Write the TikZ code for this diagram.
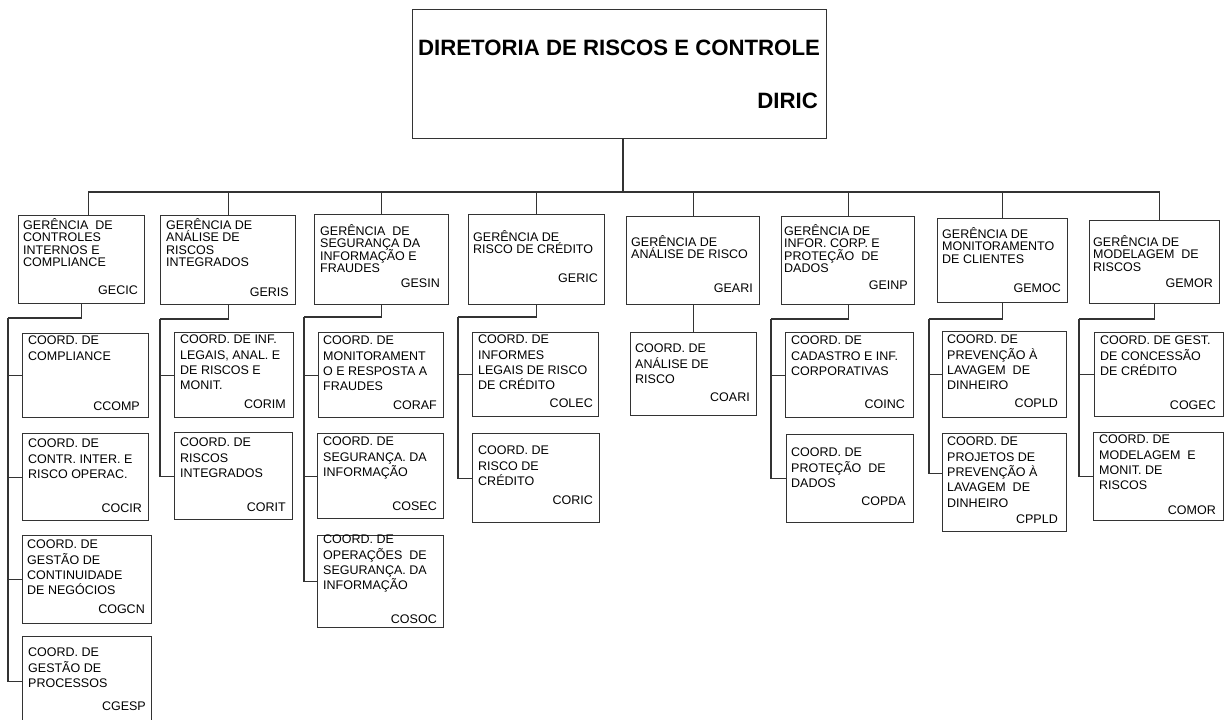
\documentclass[tikz,border=0pt]{standalone}
\usepackage{fontspec}
\setmainfont{Liberation Sans}
\usetikzlibrary{calc}
\setlength{\lineskiplimit}{-20pt}
\tikzset{
  orgbox/.style={draw=black!80, line width=1.3pt, anchor=north west, inner sep=0pt},
  orgline/.style={draw=black!80, line width=1.3pt},
  gertext/.style={anchor=north west, inner sep=0pt, align=left, text=black,
    font=\fontsize{12.5}{12.5}\selectfont,
    execute at begin node={\rule{0pt}{12pt}}},
  coordtext/.style={gertext, font=\fontsize{12.5}{15.3}\selectfont},
  sigla/.style={anchor=east, inner sep=0pt, text=black, font=\fontsize{12.5}{15}\selectfont}
}

\begin{document}
\begin{tikzpicture}[x=1pt, y=-1pt]
  \useasboundingbox (0,0) rectangle (1229,720);

  % diretoria
  \node[orgbox, minimum width=414, minimum height=129] (diric) at (412,9) {};
  \node[anchor=base west, inner sep=0pt, text=black, font=\fontsize{22.2}{24}\selectfont\bfseries] (diric-t) at (418,55) {DIRETORIA DE RISCOS E CONTROLE};
  \node[anchor=base east, inner sep=0pt, text=black, font=\fontsize{22.2}{24}\selectfont\bfseries] (diric-s) at (818,108) {DIRIC};
  \coordinate (bus) at (623,192);

  % gerencias
  \node[orgbox, minimum width=126, minimum height=88] (gecic) at (18,215) {};
  \node[orgbox, minimum width=135, minimum height=89] (geris) at (160,215) {};
  \node[orgbox, minimum width=134, minimum height=90] (gesin) at (314,214) {};
  \node[orgbox, minimum width=136, minimum height=90] (geric) at (468,214) {};
  \node[orgbox, minimum width=133, minimum height=88] (geari) at (626,216) {};
  \node[orgbox, minimum width=133, minimum height=88] (geinp) at (781,216) {};
  \node[orgbox, minimum width=130, minimum height=84] (gemoc) at (937,218) {};
  \node[orgbox, minimum width=130, minimum height=83] (gemor) at (1089,220) {};

  \node[gertext] (gecic-t) at (23,218) {GERÊNCIA~ DE\\CONTROLES\\INTERNOS E\\COMPLIANCE};
  \node[gertext] (geris-t) at (166,218) {GERÊNCIA DE\\ANÁLISE DE\\RISCOS\\INTEGRADOS};
  \node[gertext] (gesin-t) at (320,224) {GERÊNCIA~ DE\\SEGURANÇA DA\\INFORMAÇÃO E\\FRAUDES};
  \node[gertext] (geric-t) at (473,230) {GERÊNCIA DE\\RISCO DE CRÉDITO};
  \node[gertext] (geari-t) at (631,235) {GERÊNCIA DE\\ANÁLISE DE RISCO};
  \node[gertext] (geinp-t) at (784,224) {GERÊNCIA DE\\INFOR. CORP. E\\PROTEÇÃO~ DE\\DADOS};
  \node[gertext] (gemoc-t) at (942,227) {GERÊNCIA DE\\MONITORAMENTO\\DE CLIENTES};
  \node[gertext] (gemor-t) at (1093,235) {GERÊNCIA DE\\MODELAGEM~ DE\\RISCOS};

  \node[sigla] (gecic-s) at (138,290) {GECIC};
  \node[sigla] (geris-s) at (289,292) {GERIS};
  \node[sigla] (gesin-s) at (440,283) {GESIN};
  \node[sigla] (geric-s) at (598,278) {GERIC};
  \node[sigla] (geari-s) at (753,288) {GEARI};
  \node[sigla] (geinp-s) at (908,285) {GEINP};
  \node[sigla] (gemoc-s) at (1061,288) {GEMOC};
  \node[sigla] (gemor-s) at (1213,283) {GEMOR};

  % coordenacoes
  \node[orgbox, minimum width=126, minimum height=84] (ccomp) at (22,333) {};
  \node[orgbox, minimum width=126, minimum height=87] (cocir) at (22,433) {};
  \node[orgbox, minimum width=129, minimum height=88] (cogcn) at (22,535) {};
  \node[orgbox, minimum width=129, minimum height=90] (cgesp) at (22,636) {};
  \node[orgbox, minimum width=119, minimum height=85] (corim) at (174,332) {};
  \node[orgbox, minimum width=118, minimum height=87] (corit) at (174,432) {};
  \node[orgbox, minimum width=125, minimum height=85] (coraf) at (318,332) {};
  \node[orgbox, minimum width=126, minimum height=85] (cosec) at (317,433) {};
  \node[orgbox, minimum width=126, minimum height=92] (cosoc) at (317,535) {};
  \node[orgbox, minimum width=126, minimum height=84] (colec) at (472,332) {};
  \node[orgbox, minimum width=127, minimum height=89] (coric) at (472,433) {};
  \node[orgbox, minimum width=126, minimum height=83] (coari) at (630,332) {};
  \node[orgbox, minimum width=128, minimum height=85] (coinc) at (785,332) {};
  \node[orgbox, minimum width=127, minimum height=88] (copda) at (786,434) {};
  \node[orgbox, minimum width=124, minimum height=86] (copld) at (942,331) {};
  \node[orgbox, minimum width=124, minimum height=98] (cppld) at (942,433) {};
  \node[orgbox, minimum width=129, minimum height=84] (cogec) at (1094,332) {};
  \node[orgbox, minimum width=130, minimum height=88] (comor) at (1093,432) {};

  \node[coordtext] (ccomp-t) at (28,336) {COORD. DE\\COMPLIANCE};
  \node[coordtext] (cocir-t) at (28,439) {COORD. DE\\CONTR. INTER. E\\RISCO OPERAC.};
  \node[coordtext] (cogcn-t) at (27,540) {COORD. DE\\GESTÃO DE\\CONTINUIDADE\\DE NEGÓCIOS};
  \node[coordtext] (cgesp-t) at (28,648) {COORD. DE\\GESTÃO DE\\PROCESSOS};
  \node[coordtext] (corim-t) at (180,335) {COORD. DE INF.\\LEGAIS, ANAL. E\\DE RISCOS E\\MONIT.};
  \node[coordtext] (corit-t) at (180,438) {COORD. DE\\RISCOS\\INTEGRADOS};
  \node[coordtext] (coraf-t) at (323,336) {COORD. DE\\MONITORAMENT\\O E RESPOSTA A\\FRAUDES};
  \node[coordtext] (cosec-t) at (323,437) {COORD. DE\\SEGURANÇA. DA\\INFORMAÇÃO};
  \node[coordtext] (cosoc-t) at (323,535) {COORD. DE\\OPERAÇÕES~ DE\\SEGURANÇA. DA\\INFORMAÇÃO};
  \node[coordtext] (colec-t) at (478,335) {COORD. DE\\INFORMES\\LEGAIS DE RISCO\\DE CRÉDITO};
  \node[coordtext] (coric-t) at (478,446) {COORD. DE\\RISCO DE\\CRÉDITO};
  \node[coordtext] (coari-t) at (635,344) {COORD. DE\\ANÁLISE DE\\RISCO};
  \node[coordtext] (coinc-t) at (791,336) {COORD. DE\\CADASTRO E INF.\\CORPORATIVAS};
  \node[coordtext] (copda-t) at (791,448) {COORD. DE\\PROTEÇÃO~ DE\\DADOS};
  \node[coordtext] (copld-t) at (947,335) {COORD. DE\\PREVENÇÃO À\\LAVAGEM~ DE\\DINHEIRO};
  \node[coordtext] (cppld-t) at (947,437) {COORD. DE\\PROJETOS DE\\PREVENÇÃO À\\LAVAGEM~ DE\\DINHEIRO};
  \node[coordtext] (cogec-t) at (1100,336) {COORD. DE GEST.\\DE CONCESSÃO\\DE CRÉDITO};
  \node[coordtext] (comor-t) at (1099,435) {COORD. DE\\MODELAGEM~ E\\MONIT. DE\\RISCOS};

  \node[sigla] (ccomp-s) at (140,406) {CCOMP};
  \node[sigla] (cocir-s) at (142,508) {COCIR};
  \node[sigla] (cogcn-s) at (145,609) {COGCN};
  \node[sigla] (cgesp-s) at (146,706) {CGESP};
  \node[sigla] (corim-s) at (286,404) {CORIM};
  \node[sigla] (corit-s) at (286,507) {CORIT};
  \node[sigla] (coraf-s) at (437,405) {CORAF};
  \node[sigla] (cosec-s) at (437,506) {COSEC};
  \node[sigla] (cosoc-s) at (437,619) {COSOC};
  \node[sigla] (colec-s) at (593,403) {COLEC};
  \node[sigla] (coric-s) at (593,500) {CORIC};
  \node[sigla] (coari-s) at (750,397) {COARI};
  \node[sigla] (coinc-s) at (905,404) {COINC};
  \node[sigla] (copda-s) at (906,501) {COPDA};
  \node[sigla] (copld-s) at (1058,403) {COPLD};
  \node[sigla] (cppld-s) at (1058,519) {CPPLD};
  \node[sigla] (cogec-s) at (1216,405) {COGEC};
  \node[sigla] (comor-s) at (1216,510) {COMOR};

  % ligacoes
  \draw[orgline] (bus) -- (bus |- diric.south);
  \foreach \g in {geris,gesin,geric,geari,geinp,gemoc}
    \draw[orgline] (\g.north) |- (bus);
  \draw[orgline] ([xshift=7pt]gecic.north) |- (bus);
  \draw[orgline] ([xshift=5pt]gemor.north) |- (bus);

  \coordinate (rail-gecic) at (8,318);
  \coordinate (rail-geris) at (160,319);
  \coordinate (rail-gesin) at (304,317);
  \coordinate (rail-geric) at (458,317);
  \coordinate (rail-geinp) at (771,319);
  \coordinate (rail-gemoc) at (929,319);
  \coordinate (rail-gemor) at (1079,319);
  \foreach \g in {gecic,geris,gesin,geric,geinp,gemoc,gemor}
    \draw[orgline] (\g.south) |- (rail-\g);

  \foreach \c in {ccomp,cocir,cogcn,cgesp}
    \draw[orgline] (rail-gecic) |- (\c.west);
  \foreach \c in {corim,corit}
    \draw[orgline] (rail-geris) |- (\c.west);
  \foreach \c in {coraf,cosec,cosoc}
    \draw[orgline] (rail-gesin) |- (\c.west);
  \foreach \c in {colec,coric}
    \draw[orgline] (rail-geric) |- (\c.west);
  \foreach \c in {coinc,copda}
    \draw[orgline] (rail-geinp) |- (\c.west);
  \draw[orgline] (rail-gemoc) |- (copld.west);
  \draw[orgline] (rail-gemoc) |- ([yshift=9pt]cppld.west);
  \foreach \c in {cogec,comor}
    \draw[orgline] (rail-gemor) |- (\c.west);
  \draw[orgline] (geari.south) -- (geari.south |- coari.north);
\end{tikzpicture}
\end{document}
